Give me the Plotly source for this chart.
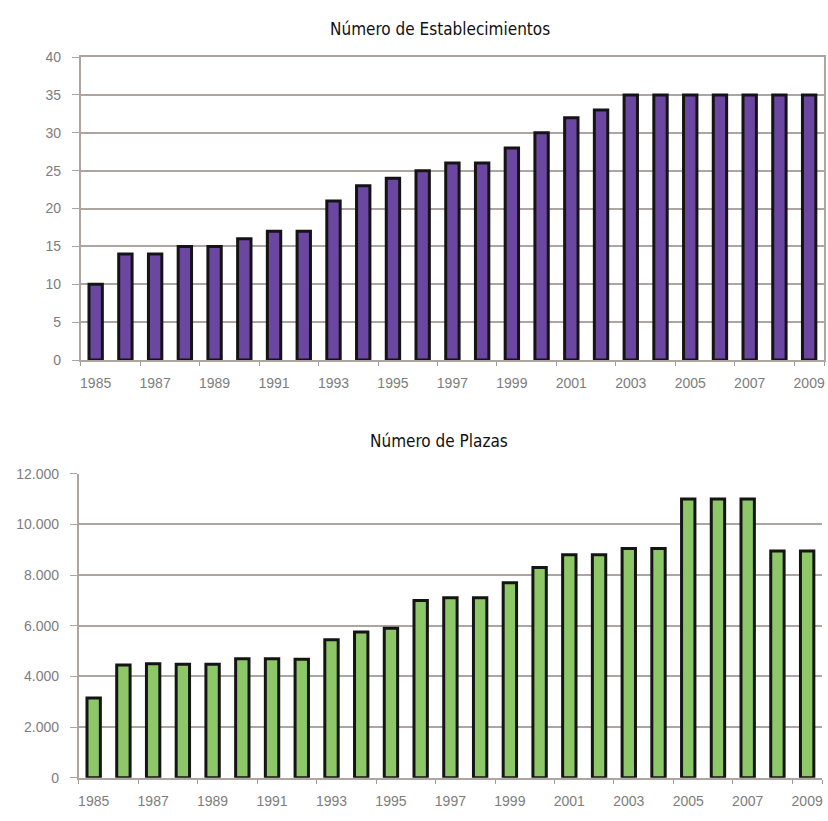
import plotly.graph_objects as go

years = [str(y) for y in range(1985, 2010)]
establecimientos = [10, 14, 14, 15, 15, 16, 17, 17, 21, 23, 24, 25, 26, 26, 28, 30, 32, 33,
                    35, 35, 35, 35, 35, 35, 35]
plazas = [3150, 4450, 4500, 4480, 4480, 4700, 4700, 4680, 5450, 5750, 5900, 7000, 7100, 7100,
          7700, 8300, 8800, 8800, 9050, 9050, 11000, 11000, 11000, 8950, 8950]
tick_years = years[::2]
title_top = "Número de Establecimientos"
title_bottom = "Número de Plazas"

W, H = 828, 821
grid_c = "#aea4a0"
tick_font = dict(family="Liberation Sans, Arial, sans-serif", size=14, color="#7d7d7d")
title_font = dict(family="DejaVu Sans Condensed, Liberation Sans Narrow, sans-serif", size=17, color="#111111")

fig = go.Figure()
fig.add_trace(go.Bar(x=years, y=establecimientos, xaxis="x", yaxis="y",
                     marker=dict(color="#6b47a1", line=dict(color="#141414", width=3)),
                     hoverinfo="x+y"))
fig.add_trace(go.Bar(x=years, y=plazas, xaxis="x2", yaxis="y2",
                     marker=dict(color="#8dc768", line=dict(color="#141414", width=3)),
                     hoverinfo="x+y"))

common_x = dict(type="category", tickmode="array", tickvals=tick_years, ticktext=tick_years,
                tickson="boundaries", ticks="outside", ticklen=4, tickcolor="#a09a96",
                tickangle=0, ticklabelstandoff=9,
                showgrid=False, showline=True, linecolor=grid_c, linewidth=2,
                tickfont=tick_font, fixedrange=True)
common_y = dict(showgrid=True, gridcolor=grid_c, gridwidth=2, zeroline=False,
                showline=True, linecolor=grid_c, linewidth=2, ticks="outside", ticklen=7,
                tickcolor=grid_c, tickfont=tick_font, ticklabelstandoff=8, fixedrange=True)

fig.update_layout(
    width=W, height=H,
    margin=dict(l=0, r=0, t=0, b=0),
    paper_bgcolor="white", plot_bgcolor="white",
    showlegend=False, bargap=0.55,
    separators=",.",
    xaxis=dict(common_x, domain=[80 / W, 825 / W], anchor="y", mirror=True),
    yaxis=dict(common_y, domain=[1 - 359 / H, 1 - 50 / H], anchor="x", range=[0, 40], dtick=5,
               mirror=True),
    xaxis2=dict(common_x, domain=[78 / W, 823 / W], anchor="y2"),
    yaxis2=dict(common_y, domain=[1 - 785 / H, 1 - 475 / H], anchor="x2", range=[0, 12000],
                dtick=2000, tickformat=",d"),
    annotations=[
        dict(text=title_top, x=440 / W, y=1 - 21 / H, xref="paper", yref="paper",
             showarrow=False, font=title_font, xanchor="center", yanchor="middle"),
        dict(text=title_bottom, x=439 / W, y=1 - 442 / H, xref="paper", yref="paper",
             showarrow=False, font=title_font, xanchor="center", yanchor="middle"),
    ],
)

fig.write_html("out.html", post_script="document.body.style.margin='0';",
               config={"displayModeBar": False})
